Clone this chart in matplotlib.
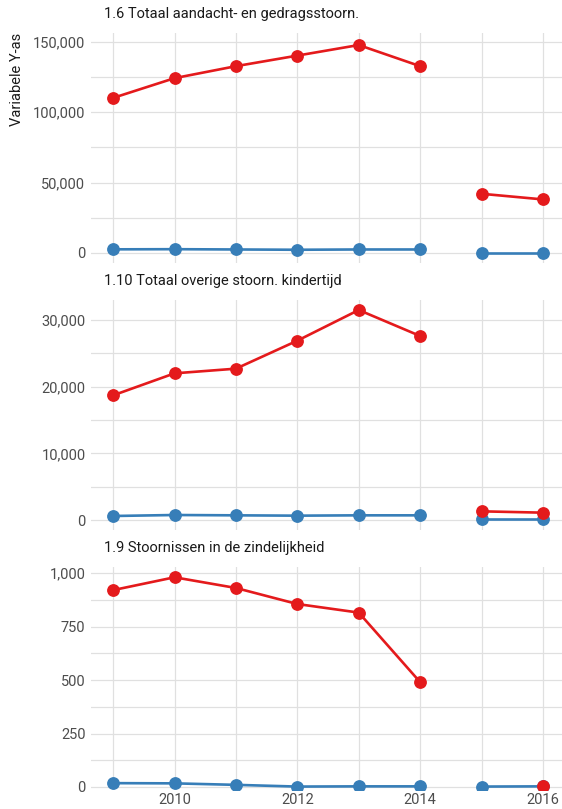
import numpy as np
import matplotlib
matplotlib.use("Agg")
import matplotlib.pyplot as plt
from matplotlib.ticker import FuncFormatter

years = [2009, 2010, 2011, 2012, 2013, 2014, 2015, 2016]

titles = ["1.6 Totaal aandacht- en gedragsstoorn.",
          "1.10 Totaal overige stoorn. kindertijd",
          "1.9 Stoornissen in de zindelijkheid"]

nan = np.nan
red = [
    [110000, 124000, 132500, 140000, 147500, 132500, 42000, 38000],
    [18700, 22000, 22700, 26900, 31500, 27600, 1300, 1100],
    [920, 980, 930, 855, 815, 490, nan, 3],
]
blue = [
    [2600, 2700, 2500, 2300, 2500, 2500, 300, 300],
    [600, 750, 700, 650, 700, 700, 100, 100],
    [18, 17, 10, 2, 3, 3, 2, 3],
]

major_y = [[0, 50000, 100000, 150000],
           [0, 10000, 20000, 30000],
           [0, 250, 500, 750, 1000]]
x_ticks = [2010, 2012, 2014, 2016]

plt.rcParams["font.family"] = ["Roboto", "DejaVu Sans"]

RED = "#E41A1C"
BLUE = "#377EB8"
GRID = "#e0e0e0"

W, H = 562, 809
fig = plt.figure(figsize=(W / 100, H / 100), dpi=100)

# layout in pixels: panel top, panel bottom, pixel of 0, pixel of top tick
panels = [(33, 263, 253, 41.5), (300, 530, 520, 320), (567, 789.5, 787, 573)]
left_px, right_px = 91, 562

for i, (top, bot, p0, p1) in enumerate(panels):
    ax = fig.add_axes([left_px / W, 1 - bot / H, (right_px - left_px) / W, (bot - top) / H])
    yr = np.array(years, dtype=float)
    r = np.array(red[i], dtype=float)
    b = np.array(blue[i], dtype=float)

    # no 2014-2015 connection
    for seg in [slice(0, 6), slice(6, 8)]:
        ax.plot(yr[seg], b[seg], color=BLUE, lw=1.9, marker="o", ms=8.2,
                solid_capstyle="butt", zorder=3)
    for seg in [slice(0, 6), slice(6, 8)]:
        ax.plot(yr[seg], r[seg], color=RED, lw=1.9, marker="o", ms=8.2,
                solid_capstyle="butt", zorder=3)

    vtop = major_y[i][-1]
    per_px = vtop / (p0 - p1)
    ax.set_ylim(-(bot - p0) * per_px, vtop + (p1 - top) * per_px)
    ax.set_xlim(2008.64, 2016.31)

    ax.set_yticks(major_y[i])
    mids = [(a + c) / 2 for a, c in zip(major_y[i][:-1], major_y[i][1:])]
    ax.set_yticks(mids, minor=True)
    ax.set_xticks(x_ticks)
    ax.set_xticks([2009, 2011, 2013, 2015], minor=True)
    ax.yaxis.set_major_formatter(FuncFormatter(lambda v, p: f"{int(v):,}"))

    ax.grid(True, which="both", color=GRID, lw=0.9)
    ax.set_axisbelow(True)
    for s in ax.spines.values():
        s.set_visible(False)
    ax.tick_params(which="both", length=0, labelsize=10.5, colors="#4d4d4d", pad=4)
    ax.tick_params(axis="x", pad=2.5)
    if i < 2:
        ax.tick_params(axis="x", labelbottom=False)

    fig.text(104 / W, 1 - (top - 19) / H, titles[i], fontsize=10.5,
             color="#1a1a1a", ha="left", va="center")

fig.text(17 / W, 1 - 79 / H, "Variabele Y-as", rotation=90, fontsize=10.5,
         color="#1a1a1a", ha="center", va="center")

fig.savefig("out.png", dpi=100, facecolor="white")
